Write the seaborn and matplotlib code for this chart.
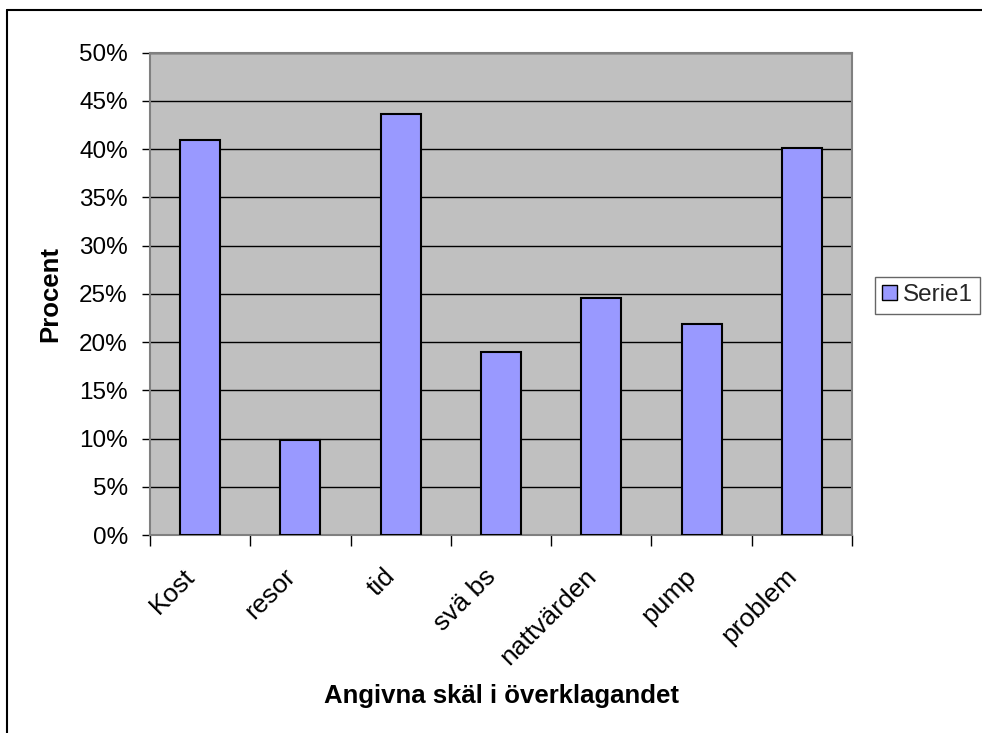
import matplotlib
matplotlib.use("Agg")
import matplotlib.pyplot as plt
import seaborn as sns
import pandas as pd
from matplotlib.lines import Line2D
from matplotlib.patches import Patch
from matplotlib.ticker import FixedLocator, PercentFormatter
from matplotlib.transforms import ScaledTranslation

categories = ["Kost", "resor", "tid", "svä bs", "nattvärden", "pump", "problem"]
values = [41.0, 9.9, 43.6, 19.0, 24.6, 21.9, 40.1]
yticks = [0, 5, 10, 15, 20, 25, 30, 35, 40, 45, 50]
series_name = "Serie1"

sns.set_style("white")
plt.rcParams["font.family"] = ["Liberation Sans", "DejaVu Sans"]

df = pd.DataFrame({"cat": categories, "val": values})

fig = plt.figure(figsize=(9.82, 7.33), dpi=100)
ax = fig.add_axes([150/982, 1-535/733, 702/982, (535-52.7)/733])

sns.barplot(data=df, x="cat", y="val", ax=ax, color="#9999FF", saturation=1,
            edgecolor="black", linewidth=1.5, width=0.4, zorder=3)

ax.set_facecolor("#C0C0C0")
ax.set_ylim(0, 50)
ax.set_xlim(-0.5, len(categories) - 0.5)
ax.set_yticks(yticks)
ax.yaxis.set_major_formatter(PercentFormatter(decimals=0))
ax.yaxis.grid(True, color="black", linewidth=1, zorder=0)
ax.set_axisbelow(True)
for s in ax.spines.values():
    s.set_color("#808080")
    s.set_linewidth(1.5)

ax.tick_params(axis="y", which="major", left=True, length=6, width=1, color="black",
               labelsize=17.5, pad=10, labelcolor="black")
ax.tick_params(axis="x", which="major", bottom=False, length=0, labelsize=19, pad=27,
               labelcolor="black")
ax.xaxis.set_minor_locator(FixedLocator([i - 0.5 for i in range(len(categories) + 1)]))
ax.tick_params(axis="x", which="minor", bottom=True, length=8, width=1, color="black")
offset = ScaledTranslation(-9/100, 0, fig.dpi_scale_trans)
for lab in ax.get_xticklabels():
    lab.set_rotation(45)
    lab.set_ha("right")
    lab.set_va("center")
    lab.set_rotation_mode("anchor")
    lab.set_transform(lab.get_transform() + offset)

ax.set_xlabel("Angivna skäl i överklagandet", fontsize=18.5, fontweight="bold", color="black")
ax.xaxis.set_label_coords(0.5, -(684-535)/482.3)
ax.set_ylabel("Procent", fontsize=18.5, fontweight="bold", color="black")
ax.yaxis.set_label_coords(-(150-62)/702, 0.5)

handle = Patch(facecolor="#9999FF", edgecolor="black", linewidth=1)
leg = fig.legend([handle], [series_name], loc="upper left",
                 bbox_to_anchor=(875/982, 1-277/733), frameon=True, fancybox=False,
                 fontsize=17.5, handlelength=0.6, handleheight=0.6, handletextpad=0.25,
                 borderpad=0.3, borderaxespad=0)
leg.get_frame().set_edgecolor("#404040")
leg.get_frame().set_linewidth(1)

# outer chart-area frame (top and left edges visible)
fig.add_artist(Line2D([7/982, 1.0], [1-10/733, 1-10/733], color="black", linewidth=1.5,
                      transform=fig.transFigure))
fig.add_artist(Line2D([7/982, 7/982], [0, 1-10/733], color="black", linewidth=1.5,
                      transform=fig.transFigure))

fig.savefig("out.png", dpi=100)
